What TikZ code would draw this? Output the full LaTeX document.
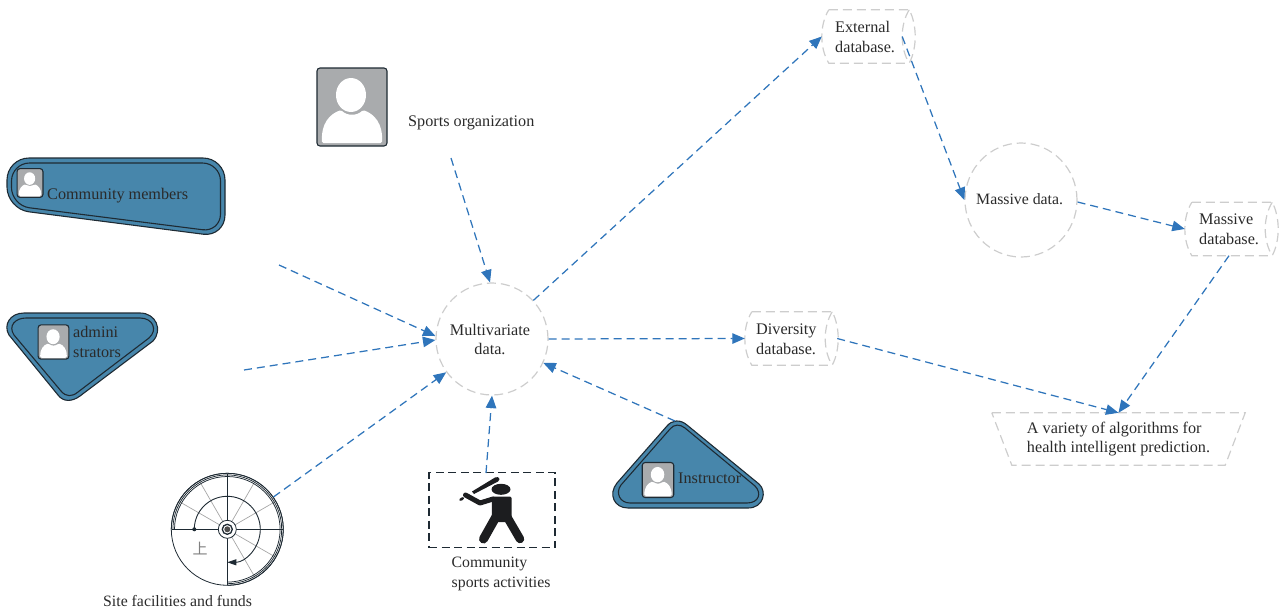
\documentclass[tikz,border=0pt]{standalone}
\usepackage{fontspec}
\setmainfont{Liberation Serif}
\newfontfamily\cjkfont{Noto Sans CJK SC}
\usetikzlibrary{arrows.meta,calc,shapes.geometric}
\definecolor{flowblue}{HTML}{2F75BB}
\definecolor{ghost}{HTML}{CDCDCD}
\definecolor{steel}{HTML}{4786AB}
\definecolor{inkdark}{HTML}{1E2A33}
\definecolor{textdark}{HTML}{2A2A2A}
\definecolor{icongray}{HTML}{A9ABAD}
\definecolor{figblack}{HTML}{1C1D1F}
\tikzset{
  flow/.style={draw=flowblue,line width=1.25pt,dash pattern=on 8pt off 5pt,-{Triangle[length=12.5pt,width=10.5pt,fill=flowblue]}},
  ghostline/.style={draw=ghost,line width=1.2pt,dash pattern=on 9pt off 5pt},
  lbl/.style={font=\fontsize{16.2}{19.6}\selectfont,text=textdark,inner sep=0pt,align=left},
  lblsmall/.style={lbl,font=\fontsize{15.8}{19.6}\selectfont},
  ctr/.style={lbl,align=center},
  dbnode/.style={inner sep=0pt,minimum width=80pt,minimum height=53pt,lbl},
  bluefill/.style={fill=steel,draw=inkdark,line width=1.1pt},
  blueinner/.style={draw=inkdark,line width=1.1pt},
}
\newcommand{\personicon}[3]{%
  \begin{scope}[shift={(#1,#2)},scale=#3]
    \draw[fill=icongray,draw=inkdark,line width=1.1pt,rounded corners=3pt] (-35,-39) rectangle (35,39);
    \fill[white,rounded corners=1.5pt] (-30,36) .. controls (-31,16) and (-22,7) .. (-11,3) .. controls (-5,9) and (5,9) .. (11,3) .. controls (22,7) and (31,16) .. (30,36) -- cycle;
    \fill[white] (-1,-12) ellipse [x radius=15,y radius=17];
  \end{scope}}
\newcommand{\dboutline}[1]{%
  \draw[ghostline] ([xshift=7pt]#1.north west) -- ([xshift=7pt]#1.north east)
    .. controls ([xshift=15pt,yshift=-15pt]#1.north east) and ([xshift=15pt,yshift=15pt]#1.south east) .. ([xshift=7pt]#1.south east)
    -- ([xshift=7pt]#1.south west)
    .. controls ([xshift=-2.3pt,yshift=15pt]#1.south west) and ([xshift=-2.3pt,yshift=-15pt]#1.north west) .. cycle;
  \draw[ghostline] ([xshift=7pt]#1.north east)
    .. controls ([xshift=-2.3pt,yshift=-15pt]#1.north east) and ([xshift=-2.3pt,yshift=15pt]#1.south east) .. ([xshift=7pt]#1.south east);}
\begin{document}
\begin{tikzpicture}[x=1pt,y=-1pt]
\useasboundingbox (0,0) rectangle (1283,614);

% central and data nodes
\node[circle,ghostline,minimum size=112pt,inner sep=0pt] (multi) at (492,339) {};
\node[ctr] (multilbl) at (490,339.5) {Multivariate\\data.};
\node[ellipse,ghostline,minimum width=112pt,minimum height=114pt,inner sep=0pt] (massdata) at (1021,200) {};
\node[lblsmall,anchor=west] (masslbl) at (976,199.5) {Massive data.};
\node[inner sep=0pt,minimum width=80pt,minimum height=53pt] (extdb) at (862,36.5) {};
\node[lbl,anchor=west] (extlbl) at (835,37) {External\\database.};
\node[inner sep=0pt,minimum width=80pt,minimum height=53pt] (massdb) at (1225,229) {};
\node[lbl,anchor=west] (massdblbl) at (1199,229) {Massive\\database.};
\node[inner sep=0pt,minimum width=80pt,minimum height=53pt] (divdb) at (785,338.5) {};
\node[lbl,anchor=west] (divlbl) at (756,339) {Diversity\\database.};
\dboutline{extdb}
\dboutline{massdb}
\dboutline{divdb}
\node[inner sep=0pt,minimum width=253pt,minimum height=52pt,lbl] (algo) at (1118.5,439) {A variety of algorithms for\\health intelligent prediction.};
\draw[ghostline] (algo.north west) -- (algo.north east) -- ([xshift=-20pt]algo.south east) -- ([xshift=20pt]algo.south west) -- cycle;

% sports organisation
\personicon{352}{107}{1}
\node[lbl,anchor=west] (sportslbl) at (408,123) {Sports organization};

% community members
\draw[bluefill,rounded corners=22pt] (7,158) -- (225,158) -- (225,237) -- (7,209) -- cycle;
\draw[blueinner,rounded corners=18pt] (11.5,163) -- (220.5,163) -- (220.5,232) -- (11.5,205.5) -- cycle;
\personicon{30}{183}{0.37}
\node[lbl,anchor=west] (commlbl) at (47,196) {Community members};

% administrators
\draw[bluefill] (9,335)
  .. controls (3,325) and (10,313) .. (24,313) -- (140,313)
  .. controls (156,313) and (163,330) .. (153,341) -- (80,396)
  .. controls (72,402) and (63,402) .. (58,395) -- cycle;
\draw[blueinner] (14,335)
  .. controls (8,326) and (15,318) .. (26,318) -- (140,318)
  .. controls (153,318) and (158,330) .. (149,338) -- (78,392)
  .. controls (72,397) and (66,397) .. (61,391) -- cycle;
\personicon{53.5}{342}{0.44}
\node[lbl,anchor=west] (adminlbl) at (73,342) {admini\\strators};

% instructor
\draw[bluefill] (617,483) -- (667,426)
  .. controls (672,420) and (680,419) .. (687,425) -- (759,484)
  .. controls (767,491) and (764,508) .. (748,508) -- (628,508)
  .. controls (614,508) and (608,494) .. (617,483) -- cycle;
\draw[blueinner] (621,485) -- (670,429)
  .. controls (674,424) and (680,424) .. (685,428) -- (755,486)
  .. controls (762,493) and (759,503) .. (747,503) -- (630,503)
  .. controls (620,503) and (615,493) .. (621,485) -- cycle;
\personicon{658}{480}{0.45}
\node[lbl,anchor=west] (instrlbl) at (678,478) {Instructor};

% baseball activity
\node[draw=inkdark,line width=1.2pt,dash pattern=on 8pt off 4.5pt,minimum width=126pt,minimum height=75pt,inner sep=0pt] (activity) at (492,510) {};
\begin{scope}[figblack]
  \fill (501,489.3) ellipse [x radius=9.5,y radius=5.5];
  \fill (472,491.5) -- (495,477.5) .. controls (499,476) and (501,479) .. (498,481.5) -- (474,494) -- cycle;
  \fill[rotate around={30:(461.7,499)}] (461.7,499) ellipse [x radius=2.6,y radius=1.4];
  \draw[line width=5pt,line join=round,line cap=round] (465.5,495) -- (480,503) -- (493,499);
  \fill[rounded corners=1.5pt] (491.7,496.5) -- (511.7,496.5) -- (511.7,522) -- (492,522) -- cycle;
  \draw[line width=9pt,line cap=round] (497,515) -- (483.5,539);
  \draw[line width=8.5pt,line cap=round] (506,515) -- (520,539);
\end{scope}
\node[lblsmall,anchor=west] (activitylbl) at (451.5,574) {Community\\sports activities};

% site plan
\node[circle,draw=inkdark,line width=0.8pt,minimum size=112pt,inner sep=0pt] (site) at (227.3,529.3) {};
\foreach \a in {30,60,120,150,-30,-60}
  \draw[gray!70,line width=0.7pt] (site.center) -- +(\a:55pt);
\foreach \a in {0,90,180,270}
  \draw[inkdark,line width=0.9pt] (site.center) -- +(\a:55.5pt);
\foreach \r in {56,54.4,52.8}
  \draw[inkdark,line width=0.75pt] ([shift={(180:\r pt)}]site.center) arc[start angle=180,end angle=-90,radius=\r pt];
\draw[inkdark,line width=0.9pt,-{Triangle[length=9pt,width=6pt,fill=inkdark]}] ([shift={(180:33pt)}]site.center) arc[start angle=180,end angle=-90,radius=33pt];
\fill[inkdark] ([shift={(180:33pt)}]site.center) circle[radius=2pt];
\fill[white] (site.center) circle[radius=9pt];
\draw[inkdark,line width=0.8pt] (site.center) circle[radius=9pt];
\draw[inkdark,line width=1.3pt] (site.center) circle[radius=5pt];
\fill[gray!60!black] (site.center) circle[radius=3pt];
\node[inner sep=0pt,text=gray,font=\cjkfont\fontsize{15}{15}\selectfont] (sitemark) at (200,549) {上};
\node[lblsmall,anchor=west] (sitelbl) at (103,601) {Site facilities and funds};

% free connector ends
\coordinate (sportsend) at (451,158);
\coordinate (commend) at (279,265);
\coordinate (adminend) at (244,370);
\coordinate (instrend) at (675,421);
\coordinate (activityend) at (486,473);

% connectors
\draw[flow] (sportsend) -- (multi.92);
\draw[flow] (commend) -- (multi.177);
\draw[flow] (adminend) -- (multi.181);
\draw[flow] (site.35) -- (multi.216);
\draw[flow] (activityend) -- (multi.270);
\draw[flow] (instrend) -- (multi.-25);
\draw[flow] (multi.0) -- (divdb.west);
\draw[flow] (multi.43) -- (extdb.west);
\draw[flow] (extdb.east) -- (massdata.west);
\draw[flow] ([yshift=-2pt]massdata.east) -- (massdb.west);
\draw[flow] ([xshift=4pt]massdb.south) -- (algo.north);
\draw[flow] ([xshift=12pt]divdb.east) -- (algo.north);
\end{tikzpicture}
\end{document}
